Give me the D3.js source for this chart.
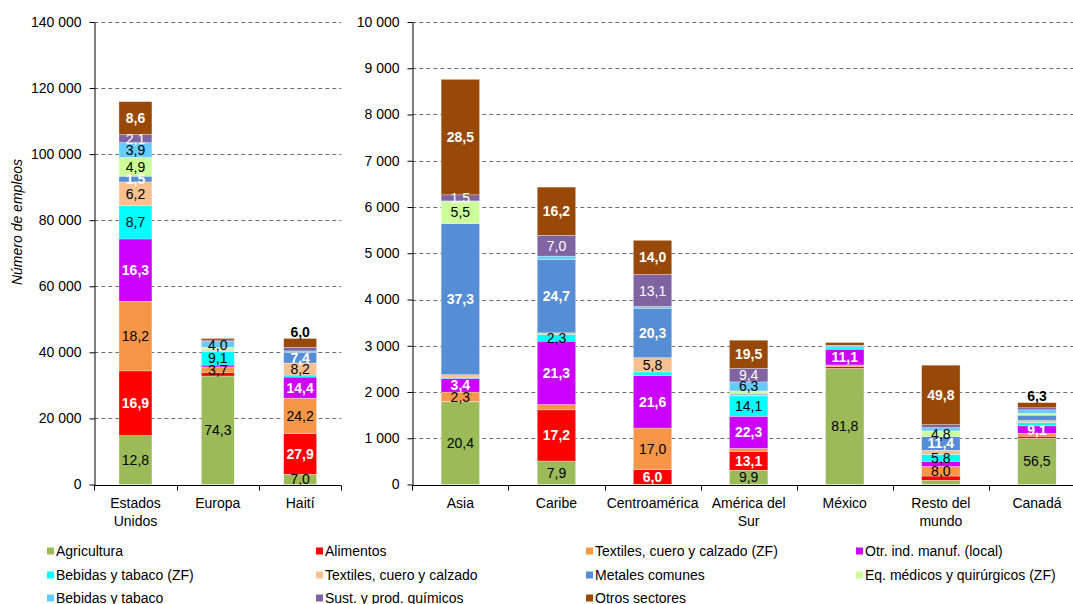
<!DOCTYPE html>
<html><head><meta charset="utf-8">
<script src="https://cdn.jsdelivr.net/npm/d3@7"></script>
<style>
html,body{margin:0;padding:0;background:#fff;}
svg{display:block;font-family:"Liberation Sans",Arial,sans-serif;}
</style></head>
<body>
<svg id="chart" width="1073" height="604"></svg>
<script>
// ---- DATA ----
const sectors = ["Agricultura","Alimentos","Textiles, cuero y calzado (ZF)","Otr. ind. manuf. (local)",
  "Bebidas y tabaco (ZF)","Textiles, cuero y calzado","Metales comunes","Eq. médicos y quirúrgicos (ZF)",
  "Bebidas y tabaco","Sust. y prod. químicos","Otros sectores"];
const sectorColors = ["#9BBB59","#FF0000","#F79646","#CC00FF","#00FFFF","#FAC090","#558ED5","#CCFF99","#66CCFF","#8064A2","#984807"];

const leftRegions = ["Estados Unidos","Europa","Haití"];
const leftTotals = [115900, 44200, 44200];
const rightRegions = ["Asia","Caribe","Centroamérica","América del Sur","México","Resto del mundo","Canadá"];
const rightTotals = [8760, 6430, 5280, 3120, 3070, 2580, 1770];

const leftTicks = [0,20000,40000,60000,80000,100000,120000,140000];
const rightTicks = [0,1000,2000,3000,4000,5000,6000,7000,8000,9000,10000];

// shares (%) by sector, bottom to top, per region
const shareEstadosUnidos = [12.8,16.9,18.2,16.3,8.7,6.2,1.5,4.9,3.9,2.1,8.6];
const shareEuropa        = [74.3,2.5,3.7,1.3,9.1,1.0,0.5,1.5,4.0,1.0,1.1];
const shareHaiti         = [7.0,27.9,24.2,14.4,1.4,8.2,7.4,0,0.9,2.5,6.0];
const shareAsia          = [20.4,0.1,2.3,3.4,0.3,0.6,37.3,5.5,0.1,1.5,28.5];
const shareCaribe        = [7.9,17.2,1.8,21.3,2.3,0.5,24.7,0,1.1,7.0,16.2];
const shareCentroamerica = [0.1,6.0,17.0,21.6,1.4,5.8,20.3,0,0.7,13.1,14.0];
const shareAmericaSur    = [9.9,13.1,2.0,22.3,14.1,0.8,1.0,1.6,6.3,9.4,19.5];
const shareMexico        = [81.8,1.2,1.2,11.1,1.6,0,0,0,1.2,0,1.9];
const shareResto         = [3.5,3.6,8.0,4.4,5.8,3.4,11.4,4.8,2.8,2.5,49.8];
const shareCanada        = [56.5,2.5,3.5,9.1,4.0,2.6,6.5,2.0,4.5,2.5,6.3];

// sectors whose share is printed on the bar
const labEstadosUnidos = [0,1,2,3,4,5,6,7,8,9,10];
const labEuropa        = [0,2,4,8];
const labHaiti         = [0,1,2,3,5,6,10];
const labAsia          = [0,2,3,6,7,9,10];
const labCaribe        = [0,1,3,4,6,9,10];
const labCentroamerica = [1,2,3,5,6,9,10];
const labAmericaSur    = [0,1,3,4,8,9,10];
const labMexico        = [0,3];
const labResto         = [2,4,6,7,10];
const labCanada        = [0,3,10];

const leftShares = [shareEstadosUnidos, shareEuropa, shareHaiti];
const leftLabels = [labEstadosUnidos, labEuropa, labHaiti];
const rightShares = [shareAsia, shareCaribe, shareCentroamerica, shareAmericaSur, shareMexico, shareResto, shareCanada];
const rightLabels = [labAsia, labCaribe, labCentroamerica, labAmericaSur, labMexico, labResto, labCanada];

// ---- RENDER ----
const svg = d3.select("#chart");
const loc = d3.formatLocale({decimal:",", thousands:" ", grouping:[3], currency:["",""]});
const fmtInt = loc.format(",d");
const fmtPct = loc.format(".1f");
const FS = 14;

function panel(cfg) {
  const {regions, totals, shares, labels, ticks, x0, x1, clipRight, yMax} = cfg;
  const y = d3.scaleLinear().domain([0, yMax]).range([484.5, 22]);
  const x = d3.scaleBand().domain(regions).range([x0, x1]).paddingInner(0.6).paddingOuter(0.3);
  const g = svg.append("g");
  const right = Math.min(x1, clipRight);

  // gridlines
  g.selectAll("line.grid").data(ticks.filter(t => t > 0)).join("line")
    .attr("x1", x0).attr("x2", right)
    .attr("y1", d => Math.round(y(d)) + 0.5).attr("y2", d => Math.round(y(d)) + 0.5)
    .attr("stroke", "#6e6e6e").attr("stroke-width", 1).attr("stroke-dasharray", "4,3");

  // bars
  regions.forEach((r, ri) => {
    const sh = shares[ri];
    const tot = d3.sum(sh);
    const cum = [0, ...d3.cumsum(sh)];
    const segs = sh.map((v, i) => ({
      i, v,
      lo: totals[ri] * cum[i] / tot,
      hi: totals[ri] * cum[i + 1] / tot
    }));
    const bg = g.append("g");
    bg.selectAll("rect").data(segs.filter(s => s.v > 0)).join("rect")
      .attr("x", x(r)).attr("width", x.bandwidth())
      .attr("y", s => y(s.hi)).attr("height", s => y(s.lo) - y(s.hi))
      .attr("fill", s => sectorColors[s.i])
      .attr("stroke", "#ffffff").attr("stroke-width", 0.5).attr("stroke-opacity", 0.6);

    const cx = x(r) + x.bandwidth() / 2;
    labels[ri].forEach(i => {
      const s = segs[i];
      const h = y(s.lo) - y(s.hi);
      let ty = (y(s.lo) + y(s.hi)) / 2, fill = "#000", fw = "normal";
      if (i === 10 && h < 12) { ty = y(s.hi) - 6.5; fw = "bold"; }
      else if (i === 1 || i === 3 || i === 6 || i === 10) { fill = "#fff"; fw = "bold"; }
      else if (i === 9) { fill = "#fff"; }
      bg.append("text").attr("x", cx).attr("y", ty).attr("dy", "0.36em")
        .attr("text-anchor", "middle").attr("font-size", FS).attr("font-weight", fw)
        .attr("fill", fill).text(fmtPct(s.v));
    });
  });

  // y axis
  const ya = d3.axisLeft(y).tickValues(ticks).tickFormat(fmtInt).tickSize(5).tickSizeOuter(0).tickPadding(8);
  const yg = g.append("g").attr("transform", `translate(${Math.round(x0) + 0.5},0)`).call(ya);
  yg.selectAll("text").attr("font-size", FS).attr("fill", "#000").attr("font-family", "Liberation Sans, Arial, sans-serif");
  yg.selectAll("line,path").attr("stroke", "#000");

  // x axis
  const yb = Math.round(y(0)) + 0.5;
  g.append("line").attr("x1", x0).attr("x2", right).attr("y1", yb).attr("y2", yb).attr("stroke", "#000");
  const bounds = d3.range(regions.length + 1).map(k => x0 + k * x.step());
  g.selectAll("line.xt").data(bounds.filter(b => b <= clipRight)).join("line")
    .attr("x1", b => Math.round(b) + 0.5).attr("x2", b => Math.round(b) + 0.5)
    .attr("y1", yb).attr("y2", yb + 5).attr("stroke", "#000");

  // category labels with wrapping
  regions.forEach(r => {
    const t = g.append("text").attr("x", x(r) + x.bandwidth() / 2).attr("y", 508)
      .attr("text-anchor", "middle").attr("font-size", FS).attr("fill", "#000");
    const words = r.split(" ");
    let line = [], tspan = t.append("tspan").attr("x", x(r) + x.bandwidth() / 2).attr("dy", 0);
    let lineNo = 0;
    words.forEach(w => {
      line.push(w);
      tspan.text(line.join(" "));
      if (tspan.node().getComputedTextLength() > x.step() * 0.98 && line.length > 1) {
        line.pop(); tspan.text(line.join(" "));
        line = [w]; lineNo++;
        tspan = t.append("tspan").attr("x", x(r) + x.bandwidth() / 2).attr("dy", 18).text(w);
      }
    });
  });
}

panel({regions:leftRegions, totals:leftTotals, shares:leftShares, labels:leftLabels,
  ticks:leftTicks, x0:94.3, x1:341.3, clipRight:1073, yMax:140000});
panel({regions:rightRegions, totals:rightTotals, shares:rightShares, labels:rightLabels,
  ticks:rightTicks, x0:412.3, x1:412.3 + 7 * 96.1, clipRight:1073, yMax:10000});

// y axis title
svg.append("text").attr("transform", "translate(22,222) rotate(-90)")
  .attr("text-anchor", "middle").attr("font-size", FS).attr("font-style", "italic")
  .attr("fill", "#000").text("Número de empleos");

// legend
const colX = [47, 316, 586, 856];
const rowY = [551, 575, 598];
const lg = svg.append("g");
sectors.forEach((s, i) => {
  const cx = colX[i % 4], cy = rowY[Math.floor(i / 4)];
  lg.append("rect").attr("x", cx).attr("y", cy - 3.5).attr("width", 7).attr("height", 7).attr("fill", sectorColors[i]);
  lg.append("text").attr("x", cx + 9).attr("y", cy).attr("dy", "0.36em")
    .attr("font-size", FS).attr("fill", "#000").text(s);
});
</script>
</body></html>
